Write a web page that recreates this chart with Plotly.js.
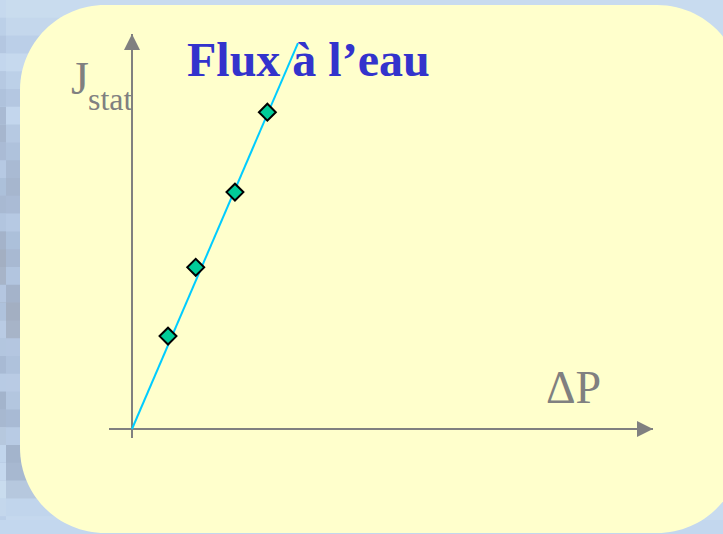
<!DOCTYPE html>
<html>
<head>
<meta charset="utf-8">
<script src="https://cdn.plot.ly/plotly-3.0.1.min.js"></script>
<style>html,body{margin:0;padding:0;background:#C8DBEF;}#chart{width:723px;height:534px;}</style>
</head>
<body>
<div id="chart"></div>
<script>
// ---- data (arbitrary units) ----
var deltaP = [1.0, 1.77, 2.86, 3.76];
var jStat = [2.58, 4.49, 6.58, 8.80];
var fitX = [0, 4.61];
var fitY = [0, 10.72];
var titleText = 'Flux à l’eau';
var xLabel = 'ΔP';
var yLabelMain = 'J';
var yLabelSub = 'stat';

// ---- layout geometry ----
var W = 723, H = 534;
var PL = 109, PR = 653, PT = 34, PB = 438;
var xRange = [-23 / 36, 521 / 36];
var yRange = [-9 / 36, 395 / 36];

function px(x) { return (x - PL) / (PR - PL); }
function py(y) { return (PB - y) / (PB - PT); }
function P(x, y) { return px(x).toFixed(5) + ',' + py(y).toFixed(5); }

// rounded yellow panel
function roundRect(L, T, R, B, r) {
  var k = 0.5523 * r;
  return 'M' + P(L + r, T) + ' L' + P(R - r, T) +
    ' C' + P(R - r + k, T) + ' ' + P(R, T + r - k) + ' ' + P(R, T + r) +
    ' L' + P(R, B - r) +
    ' C' + P(R, B - r + k) + ' ' + P(R - r + k, B) + ' ' + P(R - r, B) +
    ' L' + P(L + r, B) +
    ' C' + P(L + r - k, B) + ' ' + P(L, B - r + k) + ' ' + P(L, B - r) +
    ' L' + P(L, T + r) +
    ' C' + P(L, T + r - k) + ' ' + P(L + r - k, T) + ' ' + P(L + r, T) + ' Z';
}

var shapes = [];
// pixelated background strip on the left
var stripColors = ['#C9DCEE','#C4D7EC','#BBCFE8','#C6D9EE','#BCD0E8','#B4C7E1','#C3D6ED','#B6C9E2','#AFC2DC','#A9BAD3',
  '#A6B6CE','#AABBD5','#B6C9E3','#ACC0DA','#A8B9D2','#B2C5DF','#A4B3CA','#A3AFC2','#A7B4C8','#B4C6E0',
  '#AFC2DC','#B9CBE4','#B3C6DF','#A8BAD4','#B8CBE4','#A3B4CC','#A7B8D0','#B6C8DE','#C1D5EC','#C5D8EE'];
var bh = H / stripColors.length;
for (var i = 0; i < stripColors.length; i++) {
  shapes.push({type: 'rect', xref: 'paper', yref: 'paper', layer: 'below',
    x0: px(0), x1: px(60), y0: py(i * bh), y1: py((i + 1) * bh + 1),
    fillcolor: stripColors[i], line: {width: 0}});
  shapes.push({type: 'rect', xref: 'paper', yref: 'paper', layer: 'below',
    x0: px(0), x1: px(6), y0: py(i * bh), y1: py((i + 1) * bh + 1),
    fillcolor: stripColors[(i + 3) % stripColors.length], line: {width: 0}});
}
// bottom band
shapes.push({type: 'rect', xref: 'paper', yref: 'paper', layer: 'below',
  x0: px(0), x1: px(W), y0: py(520), y1: py(H),
  fillcolor: '#C3D7EE', line: {width: 0}});
shapes.push({type: 'path', xref: 'paper', yref: 'paper', layer: 'below',
  path: roundRect(20, 5, 742, 533, 85),
  fillcolor: '#FFFFCC', line: {width: 0}});

var axisColor = '#808080';
var data = [
  {x: fitX, y: fitY, type: 'scatter', mode: 'lines',
   line: {color: '#00CCFF', width: 2}, hoverinfo: 'skip', showlegend: false},
  {x: deltaP, y: jStat, type: 'scatter', mode: 'markers',
   marker: {symbol: 'diamond', size: 13, color: '#00CC99', line: {color: '#000000', width: 2}},
   showlegend: false}
];

var layout = {
  width: W, height: H,
  margin: {l: PL, r: W - PR, t: PT, b: H - PB, pad: 0},
  paper_bgcolor: '#C8DBEF',
  plot_bgcolor: 'rgba(0,0,0,0)',
  showlegend: false,
  title: {text: titleText, xref: 'container', yref: 'container', x: 187 / W, xanchor: 'left',
    y: 1 - 42 / H, yanchor: 'top',
    font: {family: 'Liberation Serif, Times New Roman, serif', size: 48, color: '#3333CC', weight: 'bold'}},
  xaxis: {range: xRange, showgrid: false, showticklabels: false, ticks: '', showline: false,
    zeroline: true, zerolinecolor: axisColor, zerolinewidth: 2.5, fixedrange: true},
  yaxis: {range: yRange, showgrid: false, showticklabels: false, ticks: '', showline: false,
    zeroline: true, zerolinecolor: axisColor, zerolinewidth: 2.5, fixedrange: true},
  shapes: shapes,
  annotations: [
    {xref: 'x', yref: 'y', axref: 'x', ayref: 'y', x: xRange[1], y: 0, ax: xRange[1] - 1, ay: 0,
     text: '', showarrow: true, arrowhead: 2, arrowsize: 1.6, arrowwidth: 2, arrowcolor: axisColor},
    {xref: 'x', yref: 'y', axref: 'x', ayref: 'y', x: 0, y: yRange[1], ax: 0, ay: yRange[1] - 1,
     text: '', showarrow: true, arrowhead: 2, arrowsize: 1.6, arrowwidth: 2, arrowcolor: axisColor},
    {xref: 'paper', yref: 'paper', x: px(69), y: py(106), xanchor: 'left', yanchor: 'bottom',
     text: yLabelMain, showarrow: false,
     font: {family: 'Liberation Serif, Times New Roman, serif', size: 46, color: axisColor}},
    {xref: 'paper', yref: 'paper', x: px(86), y: py(119), xanchor: 'left', yanchor: 'bottom',
     text: yLabelSub, showarrow: false,
     font: {family: 'Liberation Serif, Times New Roman, serif', size: 32, color: axisColor}},
    {xref: 'paper', yref: 'paper', x: px(544), y: py(415), xanchor: 'left', yanchor: 'bottom',
     text: xLabel, showarrow: false,
     font: {family: 'Liberation Serif, Times New Roman, serif', size: 46, color: axisColor}}
  ]
};

Plotly.newPlot('chart', data, layout, {displayModeBar: false, staticPlot: true});
</script>
</body>
</html>
